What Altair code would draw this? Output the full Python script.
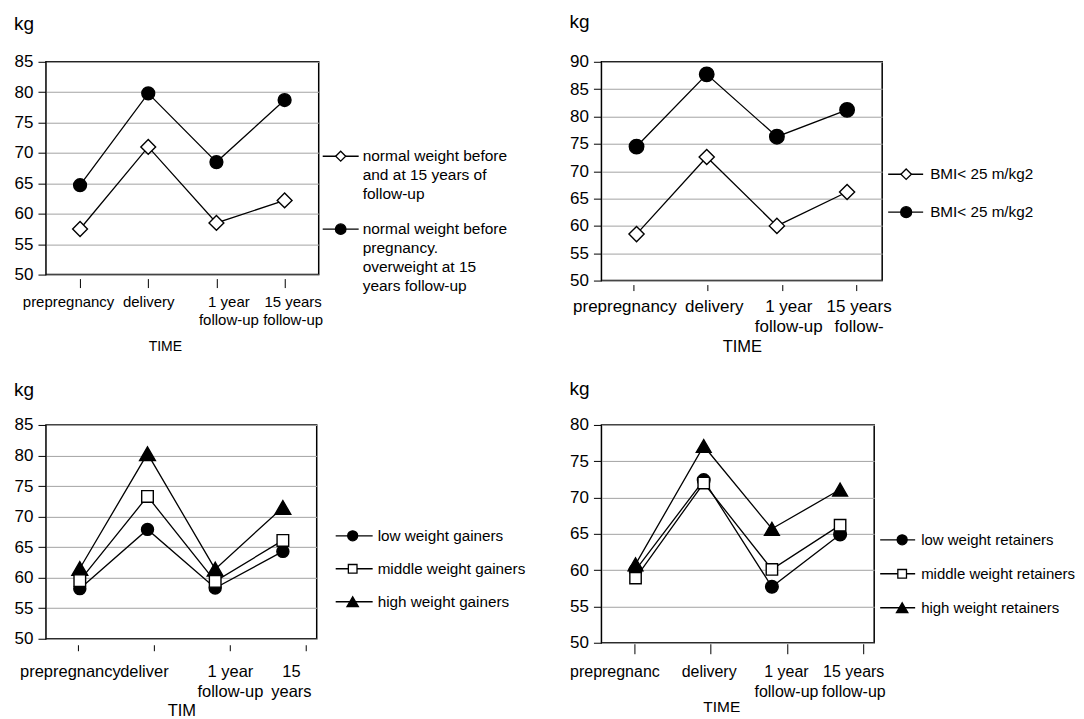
import altair as alt
import pandas as pd

FONT = "Liberation Sans"

# ---------------- data ----------------
# Panel 1 (top-left)
p1_times = ["prepregnancy", "delivery", "1 year|follow-up", "15 years|follow-up"]
p1_normal = [57.5, 71.0, 58.5, 62.2]
p1_over = [64.7, 79.8, 68.5, 78.7]
p1_legend = ["normal weight before\nand at 15 years of\nfollow-up",
             "normal weight before\npregnancy.\noverweight at 15\nyears follow-up"]

# Panel 2 (top-right)
p2_times = ["prepregnancy", "delivery", "1 year|follow-up", "15 years|follow-"]
p2_low = [58.5, 72.6, 60.0, 66.2]
p2_high = [74.5, 87.7, 76.3, 81.2]
p2_legend = ["BMI< 25 m/kg2", "BMI< 25 m/kg2"]

# Panel 3 (bottom-left)
p3_times = ["prepregnancy", "deliver", "1 year|follow-up", "15|years"]
p3_low = [58.2, 67.9, 58.3, 64.3]
p3_mid = [59.5, 73.3, 59.4, 66.1]
p3_high = [61.5, 80.3, 61.4, 71.5]
p3_legend = ["low weight gainers", "middle weight gainers", "high weight gainers"]

# Panel 4 (bottom-right)
p4_times = ["prepregnanc", "delivery", "1 year|follow-up", "15 years|follow-up"]
p4_low = [60.0, 72.4, 57.7, 64.9]
p4_mid = [58.9, 72.0, 60.1, 66.2]
p4_high = [60.8, 77.1, 65.7, 71.1]
p4_legend = ["low weight retainers", "middle weight retainers", "high weight retainers"]

y_ticks_85 = [50, 55, 60, 65, 70, 75, 80, 85]
y_ticks_90 = [50, 55, 60, 65, 70, 75, 80, 85, 90]
y_ticks_80 = [50, 55, 60, 65, 70, 75, 80]

# ---------------- styles ----------------
DIAMOND = dict(shape="diamond", fill="white")
CIRCLE = dict(shape="circle", fill="black")
SQUARE = dict(shape="square", fill="white")
TRIANGLE = dict(shape="triangle-up", fill="black")


def panel(times, series, yticks, width, height, xtitle, label_fs, title_fs,
          x_offset, tick_size, label_pad, line_h, title_pad, label_offsets,
          tick_pad, tick_align, kg_offset, title_x=None):
    label_offset = {
        "condition": [{"test": f"datum.value === '{t}'", "value": o}
                      for t, o in zip(times, label_offsets)],
        "value": 0,
    }
    xaxis_kw = dict(
        title=xtitle, labelExpr="split(datum.label, '|')", labelAngle=0,
        labelFontSize=label_fs, labelLineHeight=line_h, labelPadding=label_pad,
        labelOverlap=False, domain=False, offset=x_offset, tickSize=tick_size,
        tickColor="black", tickWidth=1, labelColor="black", labelOffset=label_offset,
        titleFontSize=title_fs, titleFontWeight="normal", titleColor="black",
        titlePadding=title_pad, grid=False,
    )
    if title_x is not None:
        xaxis_kw["titleX"] = title_x
    # data layers: category positions
    x_data = alt.X("t:N", sort=times, scale=alt.Scale(type="point", padding=0.5), axis=None)
    y = alt.Y("v:Q", scale=alt.Scale(domain=[yticks[0], yticks[-1]], nice=False, zero=False),
              axis=alt.Axis(values=yticks, title=None, domain=False, tickSize=8,
                            tickColor="black", labelPadding=5, labelFontSize=17,
                            labelColor="black", grid=True, gridColor="#a3a3a3",
                            gridWidth=1))
    # axis layer: category ticks as placed in the original
    axis_df = pd.DataFrame({"t": times})
    layers = [alt.Chart(axis_df).mark_point(opacity=0).encode(
        x=alt.X("t:N", sort=times,
                scale=alt.Scale(type="point", padding=tick_pad, align=tick_align),
                axis=alt.Axis(**xaxis_kw)))]
    for vals, style, size in series:
        df = pd.DataFrame({"t": times, "v": vals})
        base = alt.Chart(df).encode(x=x_data, y=y)
        layers.append(base.mark_line(color="black", strokeWidth=1.3))
        layers.append(base.mark_point(shape=style["shape"], filled=True, fill=style["fill"],
                                      stroke="black", strokeWidth=1.4, size=size,
                                      opacity=1, fillOpacity=1, strokeOpacity=1))
    return alt.layer(*layers).resolve_scale(x="independent").properties(
        width=width, height=height,
        title=alt.TitleParams(text="kg", anchor="start", frame="bounds", fontSize=19,
                              fontWeight="normal", color="black", offset=kg_offset),
        view=alt.ViewBackground(stroke="black", strokeWidth=1.5),
    )


def legend(labels, styles, sizes, width, height, row_range, line_x, pt_x, txt_x, fs):
    n = len(labels)
    layers = []
    for i, (lab, style, size) in enumerate(zip(labels, styles, sizes)):
        df = pd.DataFrame({"row": [i], "label": [lab]})
        y = alt.Y("row:Q", scale=alt.Scale(domain=[0, n - 1], range=row_range), axis=None)
        layers.append(alt.Chart(df).mark_rule(color="black", strokeWidth=1.4).encode(
            x=alt.value(line_x[0]), x2=alt.value(line_x[1]), y=y))
        layers.append(alt.Chart(df).mark_point(shape=style["shape"], filled=True,
                                               fill=style["fill"], stroke="black",
                                               strokeWidth=1.3, size=size, opacity=1,
                                               fillOpacity=1, strokeOpacity=1).encode(
            x=alt.value(pt_x), y=y))
        layers.append(alt.Chart(df).mark_text(align="left", baseline="alphabetic", dy=5,
                                              fontSize=fs, lineBreak="\n", lineHeight=19,
                                              color="black").encode(
            x=alt.value(txt_x), y=y, text="label:N"))
    return alt.layer(*layers).properties(width=width, height=height)


P1 = panel(p1_times, [(p1_normal, DIAMOND, 220), (p1_over, CIRCLE, 165)],
           y_ticks_85, 273, 213, "TIME", 15, 14, 4, 9, 7, 18, 12,
           [-12, 0, 12, 8], 0.5, 0.5, 18.7, title_x=119)
L1 = legend(p1_legend, [DIAMOND, CIRCLE], [100, 110], 283, 213, [94.5, 167.5],
            (4, 40), 22, 44, 15.5)

P2 = panel(p2_times, [(p2_low, DIAMOND, 230), (p2_high, CIRCLE, 210)],
           y_ticks_90, 281, 219, "TIME", 17, 16.5, 4, 6, 8, 20, 4,
           [-9, 6, 6, 2], 0.387, 0.556, 21)
L2 = legend(p2_legend, [DIAMOND, CIRCLE], [110, 120], 160, 219, [112.5, 150.5],
            (6, 41), 24, 48, 15.3)

P3 = panel(p3_times, [(p3_low, CIRCLE, 145), (p3_high, TRIANGLE, 250), (p3_mid, SQUARE, 135)],
           y_ticks_85, 271, 214, "TIM", 16.5, 16.5, 6, 6, 13, 20, 2,
           [-8, -10, 0, -15], 0.281, 0.747, 16.2)
L3 = legend(p3_legend, [CIRCLE, SQUARE, TRIANGLE], [100, 75, 130], 283, 214, [111, 177],
            (17, 54), 34, 59, 15.3)

P4 = panel(p4_times, [(p4_low, CIRCLE, 160), (p4_high, TRIANGLE, 220), (p4_mid, SQUARE, 130)],
           y_ticks_80, 273, 218, "TIME", 16, 15.5, 1, 10, 10, 20, 0,
           [-20, -2, -1, -10], 0.288, 0.75, 16.5, title_x=120)
L4 = legend(p4_legend, [CIRCLE, SQUARE, TRIANGLE], [100, 75, 130], 160, 218, [115, 183],
            (-2, 33), 20, 39, 15)

chart = alt.concat(P1, L1, P2, L2, P3, L3, P4, L4, columns=4, bounds="flush",
                   spacing=alt.RowColnumber(row=144.5, column=0)).configure(
    font=FONT, padding={"left": 5, "top": 3.5, "right": 0, "bottom": 0}
).configure_view(strokeWidth=0)

chart.save("out.html", embed_options={"renderer": "svg", "actions": False})
